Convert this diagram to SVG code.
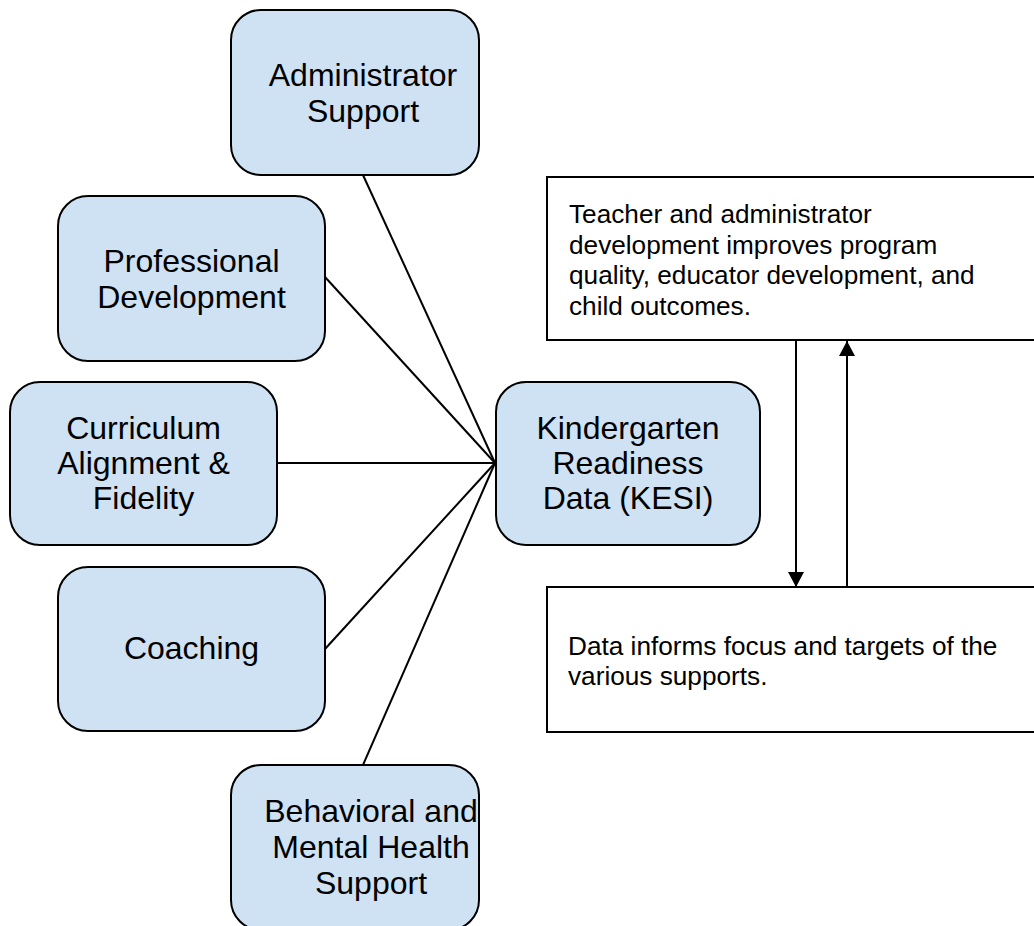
<svg xmlns="http://www.w3.org/2000/svg" width="1034" height="926" viewBox="0 0 1034 926">
  <style>
    .node rect { fill: #cfe2f3; stroke: #000; stroke-width: 2; }
    .node text { font-family: "Liberation Sans", Arial, sans-serif; font-size: 32px; fill: #000; text-anchor: middle; }
    .note rect { fill: #fff; stroke: #000; stroke-width: 2; }
    .note text { font-family: "Liberation Sans", Arial, sans-serif; font-size: 26.2px; fill: #000; }
    .conn line { stroke: #000; stroke-width: 2; fill: none; }
  </style>
  <defs>
    <marker id="arrow" markerUnits="userSpaceOnUse" markerWidth="16" markerHeight="16" viewBox="0 0 16 16" refX="15" refY="8" orient="auto">
      <path d="M0,0 L15,8 L0,16 Z" fill="#000"/>
    </marker>
  </defs>
  <rect width="1034" height="926" fill="#fff"/>

  <g id="connectors" class="conn">
    <line x1="363" y1="175" x2="495" y2="463"/>
    <line x1="325" y1="277" x2="495" y2="463"/>
    <line x1="277" y1="463" x2="495" y2="463"/>
    <line x1="325" y1="649" x2="495" y2="463"/>
    <line x1="363" y1="765" x2="495" y2="463"/>
    <line x1="796" y1="340" x2="796" y2="587" marker-end="url(#arrow)"/>
    <line x1="847" y1="587" x2="847" y2="341" marker-end="url(#arrow)"/>
  </g>

  <g id="node-admin" class="node">
    <rect x="231" y="10" width="248" height="165" rx="30"/>
    <text x="363" y="86">Administrator</text>
    <text x="363" y="122">Support</text>
  </g>
  <g id="node-profdev" class="node">
    <rect x="58" y="196" width="267" height="165" rx="30"/>
    <text x="191.5" y="272">Professional</text>
    <text x="191.5" y="308">Development</text>
  </g>
  <g id="node-curriculum" class="node">
    <rect x="10" y="382" width="267" height="163" rx="30"/>
    <text x="143.5" y="438.5">Curriculum</text>
    <text x="143.5" y="473.5">Alignment &amp;</text>
    <text x="143.5" y="508.5">Fidelity</text>
  </g>
  <g id="node-kesi" class="node">
    <rect x="496" y="382" width="264" height="163" rx="30"/>
    <text x="628" y="439">Kindergarten</text>
    <text x="628" y="474">Readiness</text>
    <text x="628" y="509">Data (KESI)</text>
  </g>
  <g id="node-coaching" class="node">
    <rect x="58" y="567" width="267" height="164" rx="30"/>
    <text x="191.5" y="659">Coaching</text>
  </g>
  <g id="node-behavioral" class="node">
    <rect x="231" y="765" width="248" height="165" rx="30"/>
    <text x="371" y="822">Behavioral and</text>
    <text x="371" y="858">Mental Health</text>
    <text x="371" y="894">Support</text>
  </g>

  <g id="note-development" class="note">
    <rect x="547" y="177" width="500" height="163"/>
    <text x="569" y="223">Teacher and administrator</text>
    <text x="569" y="253.5">development improves program</text>
    <text x="569" y="284">quality, educator development, and</text>
    <text x="569" y="314.5">child outcomes.</text>
  </g>
  <g id="note-data" class="note">
    <rect x="547" y="587" width="500" height="145"/>
    <text x="568" y="655">Data informs focus and targets of the</text>
    <text x="568" y="685">various supports.</text>
  </g>
</svg>
